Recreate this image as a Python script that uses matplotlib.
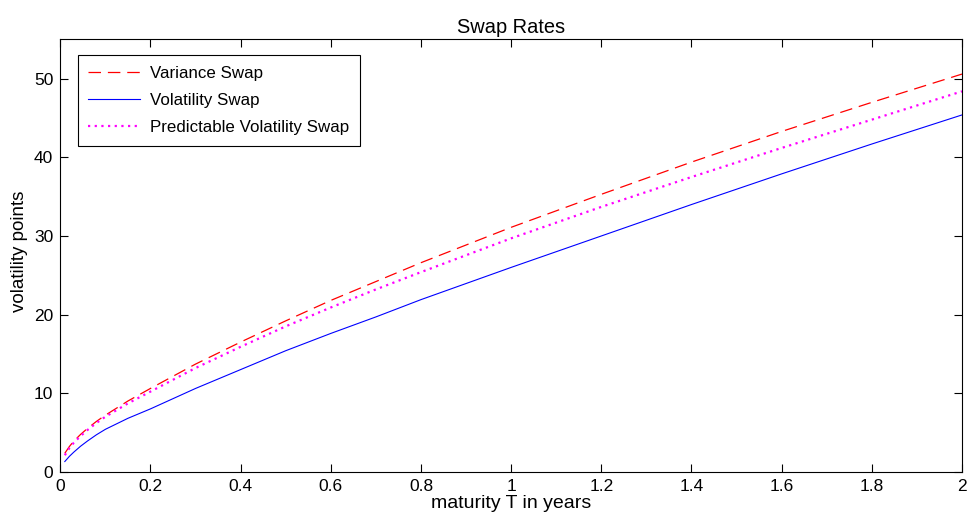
import matplotlib
matplotlib.use('Agg')
import matplotlib.pyplot as plt

plt.rcParams['font.family'] = ['Liberation Sans', 'DejaVu Sans']

# maturity (years) and swap rates in volatility points
maturity = [0.01, 0.02, 0.03, 0.045, 0.06, 0.08, 0.1, 0.15, 0.2, 0.3, 0.4, 0.5,
            0.6, 0.7, 0.8, 1.0, 1.2, 1.4, 1.6, 1.8, 2.0]
variance_swap = [2.35, 3.2, 3.9, 4.75, 5.5, 6.4, 7.2, 9.0, 10.6, 13.7, 16.5, 19.2,
                 21.8, 24.2, 26.6, 31.1, 35.3, 39.4, 43.3, 47.0, 50.6]
volatility_swap = [1.3, 1.95, 2.5, 3.25, 3.9, 4.7, 5.4, 6.8, 8.0, 10.6, 13.0, 15.4,
                   17.6, 19.7, 21.9, 26.0, 30.0, 34.0, 37.9, 41.7, 45.4]
predictable_swap = [2.1, 3.0, 3.7, 4.55, 5.3, 6.2, 7.0, 8.7, 10.2, 13.2, 15.9, 18.5,
                    20.9, 23.2, 25.4, 29.7, 33.7, 37.5, 41.2, 44.8, 48.4]

fig = plt.figure(figsize=(9.68, 5.23), dpi=100)
ax = fig.add_axes([0.0623, 0.098, 0.9315, 0.8265])

ax.plot(maturity, variance_swap, color='red', linewidth=0.9,
        linestyle=(0, (10, 5.5)), label='Variance Swap')
ax.plot(maturity, volatility_swap, color='blue', linewidth=0.8,
        label='Volatility Swap')
ax.plot(maturity, predictable_swap, color='magenta', linewidth=1.6,
        linestyle=(0, (1, 2)), label='Predictable Volatility Swap')

ax.set_xlim(0, 2)
ax.set_ylim(0, 55)
ax.set_xticks([0, 0.2, 0.4, 0.6, 0.8, 1, 1.2, 1.4, 1.6, 1.8, 2])
ax.set_xticklabels(['0', '0.2', '0.4', '0.6', '0.8', '1', '1.2', '1.4', '1.6', '1.8', '2'])
ax.set_yticks([0, 10, 20, 30, 40, 50])
ax.tick_params(direction='in', top=True, right=True, length=6, width=0.8,
               labelsize=12.5, pad=5)
for s in ax.spines.values():
    s.set_linewidth(0.8)

ax.set_xlabel('maturity T in years', fontsize=14, labelpad=1)
ax.set_ylabel('volatility points', fontsize=13.5)
ax.yaxis.set_label_coords(-0.036, 0.51)
ax.set_title('Swap Rates', fontsize=14.4, pad=5)

leg = ax.legend(loc='upper left', bbox_to_anchor=(0.0196, 0.9637), borderaxespad=0,
                fontsize=12.2, fancybox=False, edgecolor='black', framealpha=1,
                handlelength=3.05, handletextpad=0.6, labelspacing=0.72,
                borderpad=0.62)
leg.get_frame().set_linewidth(0.8)

plt.savefig('out.png', dpi=100)
